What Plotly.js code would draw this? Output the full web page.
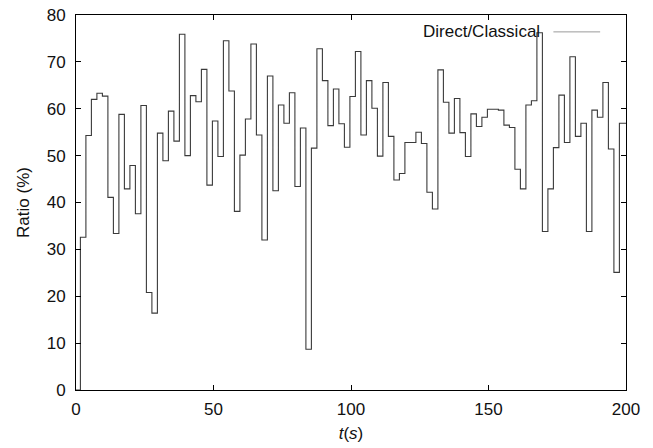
<!DOCTYPE html>
<html>
<head>
<meta charset="utf-8">
<script src="https://cdn.plot.ly/plotly-3.0.1.min.js"></script>
<style>
  html, body { margin: 0; padding: 0; background: #fff; }
  #chart { width: 653px; height: 448px; }
</style>
</head>
<body>
<div id="chart"></div>
<script>
// Step start times (s)
const times = [
  0, 1.6, 3.6, 5.6, 7.6, 9.6, 11.6, 13.6, 15.6, 17.6, 19.6, 21.6, 23.6, 25.6, 27.6, 29.6,
  31.6, 33.6, 35.6, 37.6, 39.6, 41.6, 43.6, 45.6, 47.6, 49.6, 51.6, 53.6, 55.6, 57.6, 59.6,
  61.6, 63.6, 65.6, 67.6, 69.6, 71.6, 73.6, 75.6, 77.6, 79.6, 81.6, 83.6, 85.6, 87.6, 89.6,
  91.6, 93.6, 95.6, 97.6, 99.6, 101.6, 103.6, 105.6, 107.6, 109.6, 111.6, 113.6, 115.6, 117.6,
  119.6, 121.6, 123.6, 125.6, 127.6, 129.6, 131.6, 133.6, 135.6, 137.6, 139.6, 141.6, 143.6,
  145.6, 147.6, 149.6, 151.6, 153.6, 155.6, 157.6, 159.6, 161.6, 163.6, 165.6, 167.6, 169.6,
  171.6, 173.6, 175.6, 177.6, 179.6, 181.6, 183.6, 185.6, 187.6, 189.6, 191.6, 193.6, 195.6,
  197.6, 200
];
// Direct/Classical ratio (%)
const ratio = [
  0, 32.6, 54.3, 62.0, 63.3, 62.7, 41.1, 33.4, 58.8, 42.9, 47.9, 37.6, 60.7, 20.8, 16.4, 54.8,
  48.9, 59.5, 53.1, 75.9, 50.0, 62.8, 61.5, 68.4, 43.7, 57.4, 49.8, 74.5, 63.8, 38.1, 50.1,
  57.8, 73.8, 54.4, 32.0, 67.0, 42.5, 60.8, 56.9, 63.4, 43.4, 55.9, 8.7, 51.6, 72.8, 66.0,
  56.4, 64.2, 56.8, 51.8, 62.6, 72.2, 54.4, 66.0, 60.1, 49.9, 65.6, 54.1, 44.8, 46.2,
  52.8, 52.8, 55.0, 52.6, 42.2, 38.6, 68.3, 61.4, 54.8, 62.2, 54.9, 49.8, 58.9,
  56.2, 58.2, 59.9, 59.9, 59.7, 56.5, 56.0, 47.1, 42.9, 60.8, 61.7, 76.2, 33.8,
  42.9, 51.7, 62.9, 52.8, 71.1, 54.1, 56.9, 33.8, 59.7, 58.2, 65.6, 51.4, 25.1,
  56.9, 56.9
];
const xTicks = [0, 50, 100, 150, 200];
const yTicks = [0, 10, 20, 30, 40, 50, 60, 70, 80];
const seriesName = 'Direct/Classical';

const font = { family: 'Liberation Sans, Arial, sans-serif', size: 17, color: '#111' };

const trace = {
  x: times, y: ratio, type: 'scatter', mode: 'lines',
  line: { shape: 'hv', color: '#3a3a3a', width: 1.1 },
  name: seriesName, showlegend: false, hoverinfo: 'skip'
};

const axisCommon = {
  showgrid: false, zeroline: false, showline: true, linecolor: '#000', linewidth: 1,
  mirror: 'allticks', ticks: 'inside', ticklen: 5, tickcolor: '#000', tickwidth: 1,
  tickfont: font
};

const layout = {
  width: 653, height: 448,
  margin: { l: 76, r: 27, t: 15, b: 58 },
  paper_bgcolor: '#fff', plot_bgcolor: '#fff',
  font: font,
  xaxis: Object.assign({}, axisCommon, {
    range: [0, 200], tickvals: xTicks, ticktext: xTicks.map(String),
    ticklabelstandoff: 4,
    title: { text: '<i>t</i>(<i>s</i>)', font: font, standoff: 8 }
  }),
  yaxis: Object.assign({}, axisCommon, {
    range: [0, 80], tickvals: yTicks, ticktext: yTicks.map(String),
    ticklabelstandoff: 6,
    title: { text: 'Ratio (%)', font: font, standoff: 12 }
  }),
  annotations: [{
    xref: 'paper', yref: 'paper', x: 0.848, y: 0.955,
    xanchor: 'right', yanchor: 'middle', showarrow: false,
    text: seriesName, font: font
  }],
  shapes: [{
    type: 'line', xref: 'paper', yref: 'paper',
    x0: 0.868, x1: 0.953, y0: 0.955, y1: 0.955,
    line: { color: '#9a9a9a', width: 1 }
  }]
};

Plotly.newPlot('chart', [trace], layout, { staticPlot: true, displayModeBar: false });
</script>
</body>
</html>
